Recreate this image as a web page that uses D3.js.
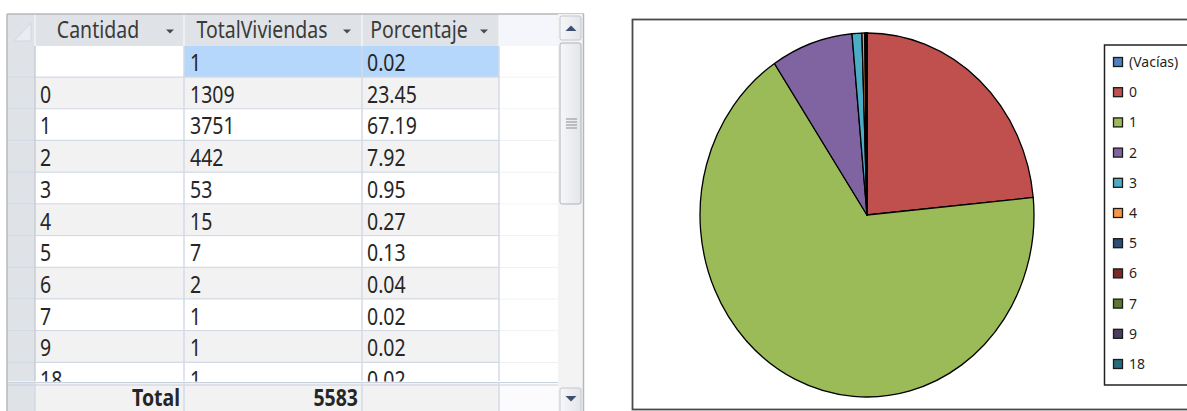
<!DOCTYPE html>
<html><head><meta charset="utf-8">
<script src="https://cdn.jsdelivr.net/npm/d3@7"></script>
<style>html,body{margin:0;padding:0;background:#fff;overflow:hidden}</style>
</head><body>
<svg id="c" width="1187" height="411"></svg>
<script>
// ---- data ----
const categories = ["(Vacías)","0","1","2","3","4","5","6","7","9","18"];
const cantidadLabels = ["","0","1","2","3","4","5","6","7","9","18"];
const totalViviendas = [1,1309,3751,442,53,15,7,2,1,1,1];
const porcentaje = ["0.02","23.45","67.19","7.92","0.95","0.27","0.13","0.04","0.02","0.02","0.02"];
const columnHeaders = ["Cantidad","TotalViviendas","Porcentaje"];
const totalLabel = "Total";
const sliceColors = ["#4F81BD","#C0504D","#9BBB59","#8064A2","#4BACC6","#F79646","#2C4D75","#772C2A","#5F7530","#4D3B62","#276A7C"];

const svg = d3.select("#c");
const FONT = "'Noto Sans', 'Open Sans', sans-serif";
const SY = 1.18; // vertical text stretch seen in the reference

// ---- table geometry ----
const colEdges = [35, 184, 362, 499];
const selX0 = 7, blankX1 = 558, sbX1 = 583;
const headerY0 = 14, headerY1 = 46;
const rowY = d3.scaleBand().domain(d3.range(cantidadLabels.length)).range([46, 46 + 31.7 * cantidadLabels.length]).padding(0);
const bodyBottom = 381.5;

const table = svg.append("g");
const defs = svg.append("defs");
defs.append("clipPath").attr("id","bodyClip").append("rect")
  .attr("x", selX0).attr("y", headerY1).attr("width", blankX1 - selX0).attr("height", bodyBottom - headerY1);
const gradBtn = defs.append("linearGradient").attr("id","btnG").attr("x1",0).attr("x2",1).attr("y1",0).attr("y2",0);
gradBtn.append("stop").attr("offset","0%").attr("stop-color","#f6f7f9");
gradBtn.append("stop").attr("offset","100%").attr("stop-color","#e3e5e9");

function text(g, x, y, s, o = {}) {
  return g.append("text")
    .attr("transform", `translate(${x},${y}) scale(1,${SY})`)
    .attr("font-family", FONT)
    .attr("font-size", o.size || 19.5)
    .attr("font-weight", o.weight || "normal")
    .attr("text-anchor", o.anchor || "start")
    .attr("fill", o.fill || "#262626")
    .text(s);
}

// body
const body = table.append("g").attr("clip-path","url(#bodyClip)");
const rows = body.selectAll("g.row").data(cantidadLabels.map((c,i)=>({c,i,v:totalViviendas[i],p:porcentaje[i]})))
  .join("g").attr("class","row");
rows.append("rect").attr("x", selX0).attr("width", colEdges[0]-selX0)
  .attr("y", d=>rowY(d.i)).attr("height", rowY.bandwidth()).attr("fill","#dfe3e8");
rows.each(function(d){
  const g = d3.select(this);
  for (let k = 0; k < 3; k++) {
    let fill = d.i % 2 === 1 ? "#f2f2f2" : "#ffffff";
    if (d.i === 0 && k > 0) fill = "#b5d7fb";
    g.append("rect").attr("x", colEdges[k]).attr("width", colEdges[k+1]-colEdges[k])
      .attr("y", rowY(d.i)).attr("height", rowY.bandwidth()).attr("fill", fill);
  }
  g.append("rect").attr("x", colEdges[3]).attr("width", blankX1-colEdges[3])
    .attr("y", rowY(d.i)).attr("height", rowY.bandwidth()).attr("fill","#fff");
  g.append("line").attr("x1", selX0).attr("x2", colEdges[3])
    .attr("y1", rowY(d.i)+rowY.bandwidth()-0.5).attr("y2", rowY(d.i)+rowY.bandwidth()-0.5)
    .attr("stroke","#d3dae6").attr("stroke-width",1.5);
  g.append("line").attr("x1", colEdges[3]).attr("x2", blankX1)
    .attr("y1", rowY(d.i)+rowY.bandwidth()-0.5).attr("y2", rowY(d.i)+rowY.bandwidth()-0.5)
    .attr("stroke","#eef0f5").attr("stroke-width",1);
  const by = rowY(d.i) + 25;
  text(g, colEdges[0]+5, by, d.c);
  text(g, colEdges[1]+6, by, d.v);
  text(g, colEdges[2]+5, by, d.p);
});
colEdges.forEach((x,k)=>{
  body.append("line").attr("x1",x).attr("x2",x).attr("y1",headerY1).attr("y2",bodyBottom)
    .attr("stroke", k===0 ? "#c9ced6" : "#d3dae6").attr("stroke-width",1.5);
});

// header
table.append("rect").attr("x", selX0).attr("y", headerY0).attr("width", colEdges[3]-selX0).attr("height", headerY1-headerY0).attr("fill","#dfe3e8");
table.append("rect").attr("x", colEdges[3]).attr("y", headerY0).attr("width", blankX1-colEdges[3]).attr("height", headerY1-headerY0).attr("fill","#f4f6fb");
table.append("path").attr("d", `M14,41 L31,41 L31,23 Z`).attr("fill","#e9ecf0").attr("stroke","#cfd4db").attr("stroke-width",0.8);
colEdges.forEach(x=>{
  table.append("line").attr("x1",x).attr("x2",x).attr("y1",headerY0).attr("y2",headerY1)
    .attr("stroke","#f3f4f6").attr("stroke-width",1.5);
});
const arrowX = [170, 347, 484];
const headerCenters = [98, 262, 419];
columnHeaders.forEach((h,k)=>{
  text(table, headerCenters[k], 38, h, {anchor:"middle", fill:"#3a3a3a"});
  table.append("path").attr("d", `M${arrowX[k]-4},${29.5} L${arrowX[k]+4},${29.5} L${arrowX[k]},${33.5} Z`).attr("fill","#4a4a4a");
});

// total row
const totalY0 = 382;
table.append("rect").attr("x", selX0).attr("y", totalY0).attr("width", colEdges[0]-selX0).attr("height", 411-totalY0).attr("fill","#dfe3e8");
table.append("rect").attr("x", colEdges[0]).attr("y", totalY0).attr("width", colEdges[3]-colEdges[0]).attr("height", 411-totalY0).attr("fill","#f2f2f2");
table.append("rect").attr("x", colEdges[3]).attr("y", totalY0).attr("width", blankX1-colEdges[3]).attr("height", 411-totalY0).attr("fill","#fbfbfd");
[totalY0+0.5, totalY0+3].forEach(y=>{
  table.append("line").attr("x1", selX0).attr("x2", blankX1).attr("y1", y).attr("y2", y).attr("stroke","#c9d1dd").attr("stroke-width",1.2);
});
colEdges.forEach(x=>{
  table.append("line").attr("x1",x).attr("x2",x).attr("y1",totalY0).attr("y2",411)
    .attr("stroke","#d3dae6").attr("stroke-width",1.5);
});
text(table, colEdges[1]-4, 406, totalLabel, {anchor:"end", weight:"bold", fill:"#262626"});
text(table, colEdges[2]-4, 406, d3.sum(totalViviendas), {anchor:"end", weight:"bold", fill:"#262626"});

// outer border
table.append("line").attr("x1",selX0).attr("x2",sbX1+1).attr("y1",headerY0).attr("y2",headerY0).attr("stroke","#b4b8be").attr("stroke-width",1.5);
table.append("line").attr("x1",selX0).attr("x2",selX0).attr("y1",headerY0).attr("y2",411).attr("stroke","#b4b8be").attr("stroke-width",1.5);

// scrollbar
const sb = table.append("g");
sb.append("rect").attr("x", blankX1).attr("y", headerY0).attr("width", sbX1-blankX1).attr("height", 411-headerY0).attr("fill","#f3f3f4");
sb.append("line").attr("x1",sbX1+0.5).attr("x2",sbX1+0.5).attr("y1",headerY0).attr("y2",411).attr("stroke","#b4b8be").attr("stroke-width",1.5);
sb.append("rect").attr("x", blankX1+2).attr("y", 16).attr("width", 21).attr("height", 24).attr("rx",2).attr("fill","url(#btnG)").attr("stroke","#c3c7ce");
sb.append("path").attr("d", "M565.5,31 L576.5,31 L571,25.5 Z").attr("fill","#3f4f70");
sb.append("rect").attr("x", blankX1+2).attr("y", 43).attr("width", 21).attr("height", 161).attr("rx",2).attr("fill","url(#btnG)").attr("stroke","#aeb2b8");
d3.range(4).forEach(k=>{
  sb.append("line").attr("x1",566).attr("x2",577).attr("y1",119+k*3).attr("y2",119+k*3).attr("stroke","#8a8d92").attr("stroke-width",1);
});
sb.append("rect").attr("x", blankX1+2).attr("y", 388).attr("width", 21).attr("height", 28).attr("rx",2).attr("fill","url(#btnG)").attr("stroke","#c3c7ce");
sb.append("path").attr("d", "M565.5,396 L576.5,396 L571,401.5 Z").attr("fill","#3f4f70");

// ---- chart ----
const chart = svg.append("g");
chart.append("rect").attr("x", 632.5).attr("y", 19.5).attr("width", 620).attr("height", 390).attr("fill","#fff").attr("stroke","#4a4a4a").attr("stroke-width",1.8);

const cx = 867, cy = 215, r = 167, ry = 182;
const pie = d3.pie().sort(null).value(d=>d)(totalViviendas);
const arc = d3.arc().innerRadius(0).outerRadius(r);
const pg = chart.append("g").attr("transform", `translate(${cx},${cy}) scale(1,${ry/r})`);
pg.selectAll("path").data(pie).join("path")
  .attr("d", arc)
  .attr("fill", (d,i)=>sliceColors[i])
  .attr("stroke","#000").attr("stroke-width",1.3).attr("stroke-linejoin","round")
  .attr("vector-effect","non-scaling-stroke");

// legend
const lg = chart.append("g");
lg.append("rect").attr("x", 1104.5).attr("y", 45).attr("width", 120).attr("height", 340).attr("fill","#fff").attr("stroke","#222").attr("stroke-width",1.5);
const ly = d3.scalePoint().domain(categories).range([62, 364]);
const items = lg.selectAll("g.item").data(categories).join("g").attr("class","item")
  .attr("transform", d=>`translate(0,${ly(d)})`);
items.append("rect").attr("x",1113.5).attr("y",-4.5).attr("width",9).attr("height",9)
  .attr("fill",(d,i)=>sliceColors[i]).attr("stroke","#1a1a1a").attr("stroke-width",1.3);
items.append("text").attr("x",1129).attr("y",5).attr("font-family",FONT).attr("font-size",14)
  .attr("fill","#1f1f1f").text(d=>d);
</script>
</body></html>
